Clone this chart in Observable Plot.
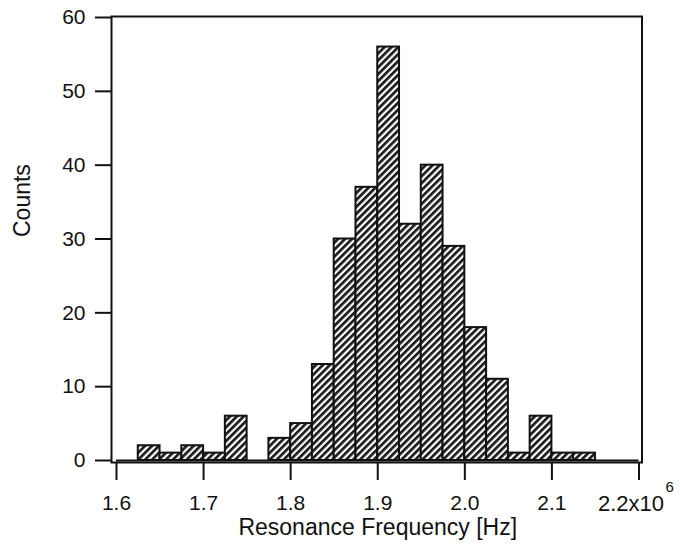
<!DOCTYPE html>
<html>
<head>
<meta charset="utf-8">
<script src="https://cdn.jsdelivr.net/npm/d3@7"></script>
<script src="https://cdn.jsdelivr.net/npm/@observablehq/plot@0.6"></script>
<style>
  html, body { margin: 0; padding: 0; background: white; }
</style>
</head>
<body>
<div id="chart"></div>
<script>
// Histogram data (bin left edges in MHz, 25 kHz bins)
const binLeftMHz = [1.625, 1.650, 1.675, 1.700, 1.725, 1.750, 1.775, 1.800, 1.825, 1.850, 1.875,
                    1.900, 1.925, 1.950, 1.975, 2.000, 2.025, 2.050, 2.075, 2.100, 2.125];
const counts     = [2, 1, 2, 1, 6, 0, 3, 5, 13, 30, 37,
                    56, 32, 40, 29, 18, 11, 1, 6, 1, 1];
const binWidthMHz = 0.025;

const xTickValuesMHz = [1.6, 1.7, 1.8, 1.9, 2.0, 2.1, 2.2];
const xTickLabels    = ["1.6", "1.7", "1.8", "1.9", "2.0", "2.1", ""];
const lastTickMantissa = "2.2x10";
const lastTickExponent = "6";
const yTicks = [0, 10, 20, 30, 40, 50, 60];
const xLabel = "Resonance Frequency [Hz]";
const yLabel = "Counts";

const bins = binLeftMHz.map((b, i) => ({
  x1: b * 1e6,
  x2: (b + binWidthMHz) * 1e6,
  count: counts[i]
})).filter(d => d.count > 0);

const xTicks = xTickValuesMHz.map(v => v * 1e6);
const labelOf = new Map(xTicks.map((v, i) => [v, xTickLabels[i]]));

const svg = Plot.plot({
  width: 680,
  height: 550,
  marginLeft: 116,
  marginRight: 41.5,
  marginTop: 17,
  marginBottom: 90,
  style: {
    fontFamily: "'Liberation Sans', Arial, Helvetica, sans-serif",
    fontSize: "21px",
    background: "white",
    color: "#111"
  },
  x: {domain: [1.6e6, 2.2e6]},
  y: {domain: [0, 60]},
  marks: [
    Plot.rectY(bins, {x1: "x1", x2: "x2", y: "count", fill: "url(#hatch)", stroke: "#111", strokeWidth: 2}),
    Plot.ruleY([0], {stroke: "#111", strokeWidth: 2}),
    Plot.frame({insetLeft: -5, insetRight: -3, insetTop: -1, insetBottom: -2, stroke: "#111", strokeWidth: 2}),
    Plot.axisY({ticks: yTicks, tickSize: 16, tickPadding: 10, dx: -5, label: null, fontSize: 21, stroke: "#111", strokeWidth: 2, fill: "#111"}),
    Plot.axisX({ticks: xTicks, tickFormat: d => labelOf.get(d) ?? "", tickSize: 17, tickPadding: 15, dy: 3, label: null, fontSize: 21, stroke: "#111", strokeWidth: 2, fill: "#111"}),
    Plot.text([lastTickMantissa], {x: () => xTicks[xTicks.length - 1], frameAnchor: "bottom", text: d => d, textAnchor: "start", dx: -41, dy: 50, fontSize: 22, fill: "#111"}),
    Plot.text([lastTickExponent], {x: () => xTicks[xTicks.length - 1], frameAnchor: "bottom", text: d => d, textAnchor: "start", dx: 26.5, dy: 31, fontSize: 15, fill: "#111"}),
    Plot.text([xLabel], {frameAnchor: "bottom", text: d => d, dy: 74, fontSize: 23, fill: "#111"}),
    Plot.text([yLabel], {frameAnchor: "left", text: d => d, dx: -93.5, dy: -2, rotate: -90, fontSize: 23, fill: "#111"})
  ]
});

const ns = "http://www.w3.org/2000/svg";
const defs = document.createElementNS(ns, "defs");
defs.innerHTML = `
  <pattern id="hatch" patternUnits="userSpaceOnUse" width="4.9" height="4.9" patternTransform="rotate(45)">
    <rect x="0" y="0" width="4.9" height="4.9" fill="white"></rect>
    <rect x="0" y="0" width="2.7" height="4.9" fill="#1a1a1a"></rect>
  </pattern>`;
svg.insertBefore(defs, svg.firstChild);

document.getElementById("chart").appendChild(svg);
</script>
</body>
</html>
